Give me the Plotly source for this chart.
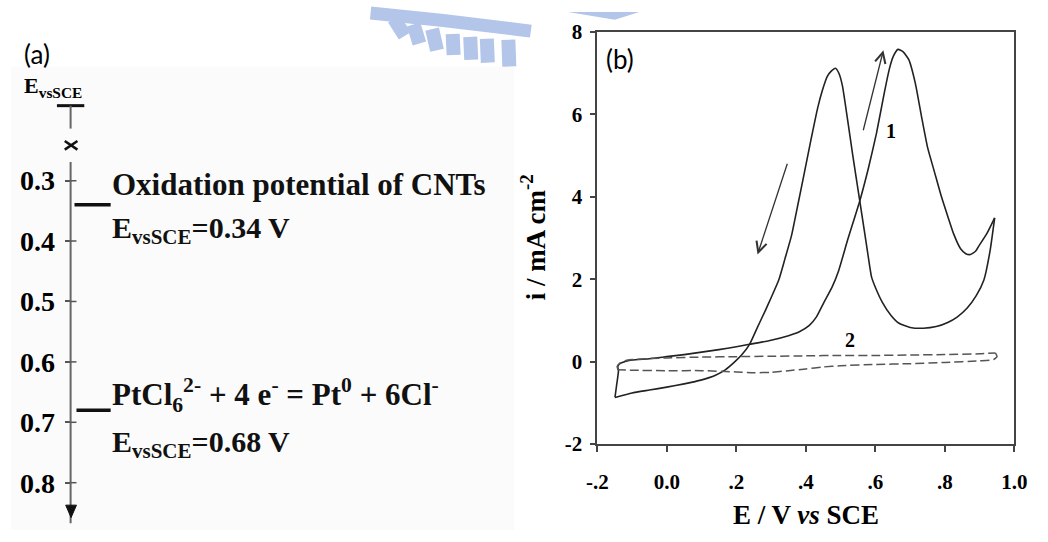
import plotly.graph_objects as go

W, H = 1048, 542


def px(x):
    return x / W


def py(y):
    return 1 - y / H


# ---------------- Panel (b): cyclic voltammograms ----------------
# curve 1 (solid), forward scan
E_fwd1 = [-0.149, -0.144, -0.139, -0.141, -0.134, -0.120, -0.100, -0.050, 0.000, 0.050, 0.100,
          0.150, 0.200, 0.238, 0.300, 0.350, 0.380, 0.410, 0.430, 0.452, 0.475, 0.494, 0.520,
          0.555, 0.580, 0.603, 0.625, 0.640, 0.652, 0.665, 0.680, 0.696, 0.715, 0.733, 0.750,
          0.770, 0.790, 0.808, 0.825, 0.845, 0.860, 0.873, 0.888, 0.900, 0.920, 0.943]
i_fwd1 = [-0.87, -0.55, -0.23, -0.12, -0.04, 0.00, 0.04, 0.07, 0.12, 0.17, 0.23,
          0.29, 0.36, 0.42, 0.52, 0.63, 0.72, 0.88, 1.08, 1.44, 1.80, 2.20, 2.95,
          3.90, 4.70, 5.54, 6.50, 7.10, 7.42, 7.58, 7.52, 7.33, 6.75, 5.93, 5.20,
          4.60, 4.00, 3.53, 3.10, 2.74, 2.62, 2.60, 2.68, 2.84, 3.10, 3.49]
# curve 1 (solid), reverse scan
E_rev1 = [0.943, 0.930, 0.912, 0.890, 0.864, 0.835, 0.808, 0.775, 0.738, 0.700, 0.668, 0.645,
          0.620, 0.600, 0.589, 0.575, 0.555, 0.535, 0.519, 0.505, 0.495, 0.485, 0.473, 0.462,
          0.448, 0.434, 0.415, 0.396, 0.378, 0.359, 0.340, 0.322, 0.300, 0.284, 0.260, 0.238,
          0.215, 0.196, 0.168, 0.140, 0.098, 0.050, 0.000, -0.050, -0.100, -0.149]
i_rev1 = [3.49, 2.70, 1.98, 1.60, 1.30, 1.08, 0.95, 0.85, 0.81, 0.83, 0.93, 1.12,
          1.44, 1.80, 2.05, 2.80, 3.90, 5.00, 5.93, 6.70, 7.00, 7.12, 7.05, 6.93,
          6.60, 6.16, 5.40, 4.60, 3.85, 3.07, 2.50, 1.98, 1.55, 1.25, 0.82, 0.42,
          0.16, 0.00, -0.20, -0.33, -0.45, -0.54, -0.62, -0.69, -0.76, -0.87]
# curve 2 (dashed)
E_fwd2 = [-0.140, -0.143, -0.135, -0.120, -0.100, 0.000, 0.100, 0.200, 0.300, 0.400, 0.500,
          0.600, 0.700, 0.800, 0.900, 0.945]
i_fwd2 = [-0.20, -0.12, -0.04, 0.02, 0.05, 0.09, 0.11, 0.12, 0.13, 0.14, 0.15,
          0.15, 0.16, 0.17, 0.19, 0.21]
E_rev2 = [0.945, 0.950, 0.940, 0.900, 0.800, 0.700, 0.600, 0.500, 0.450, 0.400, 0.350,
          0.300, 0.250, 0.200, 0.100, 0.000, -0.100, -0.140]
i_rev2 = [0.21, 0.12, 0.05, 0.02, -0.02, -0.05, -0.07, -0.10, -0.13, -0.18, -0.22,
          -0.26, -0.27, -0.25, -0.22, -0.22, -0.21, -0.20]

x_tickvals = [-0.2, 0.0, 0.2, 0.4, 0.6, 0.8, 1.0]
x_ticktext = ["-.2", "0.0", ".2", ".4", ".6", ".8", "1.0"]
y_tickvals = [-2, 0, 2, 4, 6, 8]
y_ticktext = ["-2", "0", "2", "4", "6", "8"]

arrow_tail_E = [0.348, 0.564]
arrow_tail_i = [4.84, 5.58]
arrow_head_E = [0.261, 0.623]
arrow_head_i = [2.60, 7.56]

curve_labels = ["1", "2"]
curve_label_E = [0.645, 0.527]
curve_label_i = [5.60, 0.53]

# ---------------- Panel (a): potential scale ----------------
scale_ticks = [0.3, 0.4, 0.5, 0.6, 0.7, 0.8]
scale_ticktext = ["0.3", "0.4", "0.5", "0.6", "0.7", "0.8"]
level_E = [0.34, 0.68]
level_titles = ["Oxidation potential of CNTs",
                "PtCl<sub>6</sub><sup>2-</sup> + 4 e<sup>-</sup> = Pt<sup>0</sup> + 6Cl<sup>-</sup>"]
level_values = ["E<sub>vsSCE</sub>=0.34 V", "E<sub>vsSCE</sub>=0.68 V"]

SERIF = "Liberation Serif"
INK = "#222222"

fig = go.Figure()

# --- panel (b) traces
for xs, ys in [(E_fwd1, i_fwd1), (E_rev1, i_rev1)]:
    fig.add_trace(go.Scatter(x=xs, y=ys, mode="lines", xaxis="x", yaxis="y",
                             line=dict(color=INK, width=1.6, shape="spline", smoothing=0.5),
                             showlegend=False, hoverinfo="skip"))
for xs, ys in [(E_fwd2, i_fwd2), (E_rev2, i_rev2)]:
    fig.add_trace(go.Scatter(x=xs, y=ys, mode="lines", xaxis="x", yaxis="y",
                             line=dict(color="#555555", width=1.5, dash="9px,4px",
                                       shape="spline", smoothing=0.5),
                             showlegend=False, hoverinfo="skip"))

# --- panel (a) level lines (drawn on the potential scale)
LEVEL_X = [[65, 102], [67, 102]]
for k, e in enumerate(level_E):
    fig.add_trace(go.Scatter(x=LEVEL_X[k], y=[e, e], mode="lines", xaxis="x2", yaxis="y2",
                             line=dict(color="#111111", width=3.5),
                             showlegend=False, hoverinfo="skip"))

# potential-scale mapping: 0.3 at 176.5 px, 632 px per volt, domain 60..540 px
top_px, bot_px = 60, 540
v_top = 0.3 - (176.5 - top_px) / 632
v_bot = 0.3 + (bot_px - 176.5) / 632

axis_common = dict(showgrid=False, zeroline=False, color="black")

fig.update_layout(
    width=W, height=H,
    margin=dict(l=0, r=0, t=0, b=0),
    paper_bgcolor="white", plot_bgcolor="rgba(0,0,0,0)",
    showlegend=False,
    xaxis=dict(domain=[px(600), px(1027)], range=[-0.2, 1.0], anchor="y",
               tickvals=x_tickvals, ticktext=x_ticktext,
               ticks="outside", ticklen=6, tickwidth=1.5, tickcolor="#444",
               showline=True, linecolor="#444", linewidth=1.6, mirror=True,
               ticklabelstandoff=12,
               tickfont=dict(family=SERIF, size=21, color="black", weight="bold"),
               **axis_common),
    yaxis=dict(domain=[py(452), py(21)], range=[-2, 8], anchor="x",
               tickvals=y_tickvals, ticktext=y_ticktext,
               ticks="outside", ticklen=5, tickwidth=1.5, tickcolor="#444",
               showline=True, linecolor="#444", linewidth=1.6, mirror=True,
               ticklabelstandoff=4,
               tickfont=dict(family=SERIF, size=21, color="black", weight="bold"),
               **axis_common),
    xaxis2=dict(domain=[0, px(515)], range=[0, 515], anchor="y2", visible=False,
                showgrid=False, zeroline=False),
    yaxis2=dict(domain=[py(bot_px), py(top_px)], range=[v_bot, v_top], anchor="free",
                position=px(61), side="left",
                tickvals=scale_ticks, ticktext=scale_ticktext,
                ticks="outside", ticklen=6, tickwidth=1.5, tickcolor="#555",
                showline=False, ticklabelstandoff=4,
                tickfont=dict(family=SERIF, size=28, color="black", weight="bold"),
                **axis_common),
)

shapes = []
# background of panel (a)
shapes.append(dict(type="rect", xref="paper", yref="paper", x0=0, x1=px(515), y0=py(542), y1=py(57),
                   fillcolor="#fbfbfb", line=dict(width=0), layer="below"))

# watermark fragments (light blue)
WM = "#b4c5ea"
shapes.append(dict(type="path", xref="paper", yref="paper",
                   path=f"M {px(368)},{py(1)} Q {px(450)},{py(9)} {px(532)},{py(20)}",
                   line=dict(color=WM, width=13)))
teeth = [((392, 7), (403, 25)), ((412, 13), (418, 33)), ((431, 18), (436, 40)),
         ((452, 23), (453, 45)), ((470, 26), (471, 50)), ((487, 28), (488, 53)),
         ((509, 29), (510, 57))]
for (xa, ya), (xb, yb) in teeth:
    shapes.append(dict(type="line", xref="paper", yref="paper", x0=px(xa), y0=py(ya),
                       x1=px(xb), y1=py(yb), line=dict(color=WM, width=14)))
shapes.append(dict(type="path", xref="paper", yref="paper",
                   path=f"M {px(570)},{py(0)} L {px(643)},{py(0)} L {px(618)},{py(8)} Z",
                   fillcolor=WM, line=dict(width=0)))

# potential scale axis: T top, break mark, line, arrow
AX = 61
GREY = "#666666"
shapes.append(dict(type="line", xref="paper", yref="paper", x0=px(47), x1=px(75), y0=py(98), y1=py(98),
                   line=dict(color="#111", width=3)))
shapes.append(dict(type="line", xref="paper", yref="paper", x0=px(AX), x1=px(AX), y0=py(98), y1=py(122),
                   line=dict(color=GREY, width=2)))
shapes.append(dict(type="line", xref="paper", yref="paper", x0=px(55), x1=px(68), y0=py(135), y1=py(144),
                   line=dict(color="#111", width=2.5)))
shapes.append(dict(type="line", xref="paper", yref="paper", x0=px(55), x1=px(68), y0=py(144), y1=py(135),
                   line=dict(color="#111", width=2.5)))
shapes.append(dict(type="line", xref="paper", yref="paper", x0=px(AX), x1=px(AX), y0=py(157), y1=py(535),
                   line=dict(color=GREY, width=2)))
shapes.append(dict(type="path", xref="paper", yref="paper",
                   path=f"M {px(56)},{py(516)} L {px(67)},{py(516)} L {px(61.5)},{py(529)} Z",
                   fillcolor="#111", line=dict(color="#111", width=1)))
# right halves of the scale tick marks
for t in scale_ticks:
    shapes.append(dict(type="line", xref="x2", yref="y2", x0=AX, x1=AX + 6, y0=t, y1=t,
                       line=dict(color="#555", width=1.5)))

annotations = []
# panel labels
annotations.append(dict(x=px(11), y=py(44), xref="paper", yref="paper", text="(a)", showarrow=False,
                        xanchor="left", yanchor="middle",
                        font=dict(family="Lato", size=26, color="black")))
annotations.append(dict(x=px(607), y=py(49), xref="paper", yref="paper", text="(b)", showarrow=False,
                        xanchor="left", yanchor="middle",
                        font=dict(family="Lato", size=26, color="black")))
# potential-scale header
annotations.append(dict(x=px(11), y=py(78), xref="paper", yref="paper",
                        text="<b>E<sub>vsSCE</sub></b>", showarrow=False,
                        xanchor="left", yanchor="middle",
                        font=dict(family=SERIF, size=22, color="black")))
# level labels
TITLE_Y = [181, 401]
VALUE_Y = [228, 452]
for k in range(len(level_E)):
    annotations.append(dict(x=px(101), y=py(TITLE_Y[k]), xref="paper", yref="paper",
                            text=f"<b>{level_titles[k]}</b>", showarrow=False,
                            xanchor="left", yanchor="middle",
                            font=dict(family=SERIF, size=31, color="#111")))
    annotations.append(dict(x=px(101), y=py(VALUE_Y[k]), xref="paper", yref="paper",
                            text=f"<b>{level_values[k]}</b>", showarrow=False,
                            xanchor="left", yanchor="middle",
                            font=dict(family=SERIF, size=30, color="#111")))

# panel (b) axis titles
annotations.append(dict(x=px(814), y=py(526), xref="paper", yref="paper",
                        text="<b>E / V <i>vs</i> SCE</b>", showarrow=False,
                        xanchor="center", yanchor="middle",
                        font=dict(family=SERIF, size=27, color="black")))
annotations.append(dict(x=px(534), y=py(236), xref="paper", yref="paper",
                        text="<b>i / mA cm<sup>-2</sup></b>", showarrow=False, textangle=-90,
                        xanchor="center", yanchor="middle",
                        font=dict(family=SERIF, size=27, color="black")))
# scan-direction arrows
for k in range(len(arrow_tail_E)):
    annotations.append(dict(x=arrow_head_E[k], y=arrow_head_i[k], ax=arrow_tail_E[k], ay=arrow_tail_i[k],
                            xref="x", yref="y", axref="x", ayref="y", text="", showarrow=True,
                            arrowhead=5, arrowsize=1.6, arrowwidth=1.3, arrowcolor="#333"))
# curve labels
for k in range(len(curve_labels)):
    annotations.append(dict(x=curve_label_E[k], y=curve_label_i[k], xref="x", yref="y",
                            text=f"<b>{curve_labels[k]}</b>", showarrow=False,
                            font=dict(family=SERIF, size=20, color="black")))

fig.update_layout(shapes=shapes, annotations=annotations)

fig.write_html("out.html")
